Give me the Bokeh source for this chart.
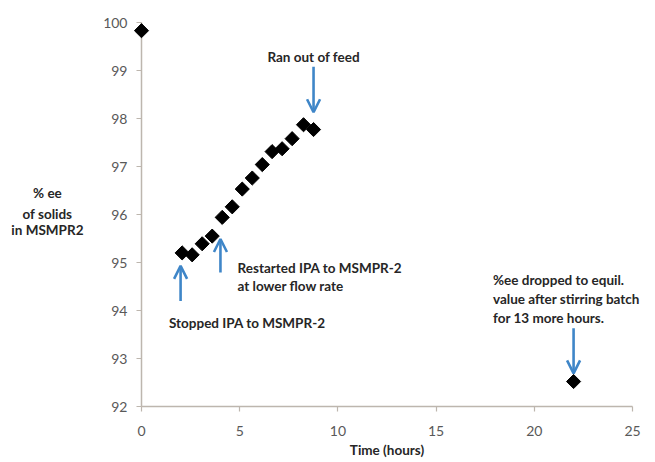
import math
from bokeh.plotting import figure
from bokeh.models import Arrow, OpenHead, FixedTicker, ColumnDataSource
from bokeh.core.properties import value
from bokeh.embed import file_html
from bokeh.resources import INLINE

# ---- data ----
time_h = [0.0, 2.07, 2.58, 3.09, 3.60, 4.11, 4.62, 5.13, 5.64, 6.15, 6.65,
          7.16, 7.67, 8.25, 8.76, 22.0]
ee_pct = [99.83, 95.20, 95.16, 95.39, 95.55, 95.94, 96.16, 96.53, 96.76,
          97.04, 97.31, 97.37, 97.58, 97.87, 97.77, 92.52]

x_ticks = [0, 5, 10, 15, 20, 25]
y_ticks = [92, 93, 94, 95, 96, 97, 98, 99, 100]

x_title = "Time (hours)"
y_title = ["% ee", "of solids", "in MSMPR2"]

note_text = ["Ran out of feed",
             "Restarted IPA to MSMPR-2", "at lower flow rate",
             "Stopped IPA to MSMPR-2",
             "%ee dropped to equil.", "value after stirring batch",
             "for 13 more hours."]

FONT = "Lato"
TXT = "#262626"
BLUE = "#3f86c8"
AX = "#bdb6ae"
W, H = 655, 462

p = figure(width=W, height=H, x_range=(0, 25), y_range=(92, 100),
           output_backend="svg", toolbar_location=None,
           min_border_left=141, min_border_right=W - 632,
           min_border_top=22, min_border_bottom=H - 406)
p.outline_line_color = None
p.xgrid.visible = False
p.ygrid.visible = False
p.background_fill_color = "white"
p.border_fill_color = "white"

for ax in (p.xaxis[0], p.yaxis[0]):
    ax.axis_line_color = AX
    ax.axis_line_width = 1.5
    ax.major_tick_line_color = AX
    ax.major_tick_line_width = 1.2
    ax.major_tick_out = 5
    ax.major_tick_in = 0
    ax.minor_tick_out = 0
    ax.minor_tick_in = 0
    ax.major_label_text_font = FONT
    ax.major_label_text_font_size = "14px"
    ax.major_label_text_color = "#595959"

p.xaxis.ticker = FixedTicker(ticks=x_ticks)
p.yaxis.ticker = FixedTicker(ticks=y_ticks)
p.xaxis.major_label_standoff = 14
p.yaxis.major_label_standoff = 9
p.xaxis.axis_label = x_title
p.xaxis.axis_label_text_font = FONT
p.xaxis.axis_label_text_font_style = "bold"
p.xaxis.axis_label_text_font_size = "13.5px"
p.xaxis.axis_label_text_color = TXT
p.xaxis.axis_label_standoff = 3

src = ColumnDataSource(dict(x=time_h, y=ee_pct))
r = p.scatter("x", "y", source=src, marker="square", size=10,
              angle=math.pi / 4, fill_color="black", line_color="black")
r.level = "overlay"

# text placements (data coordinates)
i_feed, i_end = 14, 15
ytitle_src = ColumnDataSource(dict(x=[-4.79] * 3, y=[96.44, 96.02, 95.67],
                                   t=y_title))
note_src = ColumnDataSource(dict(
    x=[time_h[i_feed] - 2.35, 4.89, 4.89, 1.40, 17.9, 17.9, 17.9],
    y=[99.29, 94.89, 94.51, 93.74, 94.63, 94.24, 93.84],
    t=note_text))

for s, align in ((ytitle_src, "center"), (note_src, "left")):
    tr = p.text("x", "y", text="t", source=s, text_align=align,
                text_baseline="middle", text_font=value(FONT),
                text_font_style="bold", text_font_size="13.5px",
                text_color=TXT)
    tr.level = "overlay"

def arrow(x, y0, y1):
    a = Arrow(x_start=x, y_start=y0, x_end=x, y_end=y1,
              line_color=BLUE, line_width=2.6,
              end=OpenHead(size=13, line_color=BLUE, line_width=2.6))
    a.level = "overlay"
    p.add_layout(a)

arrow(time_h[i_feed], 99.08, 98.13)
arrow(4.02, 94.79, 95.49)
arrow(1.99, 94.20, 94.93)
arrow(time_h[i_end], 93.63, 92.69)

open("out.html", "w").write(file_html(p, INLINE))
